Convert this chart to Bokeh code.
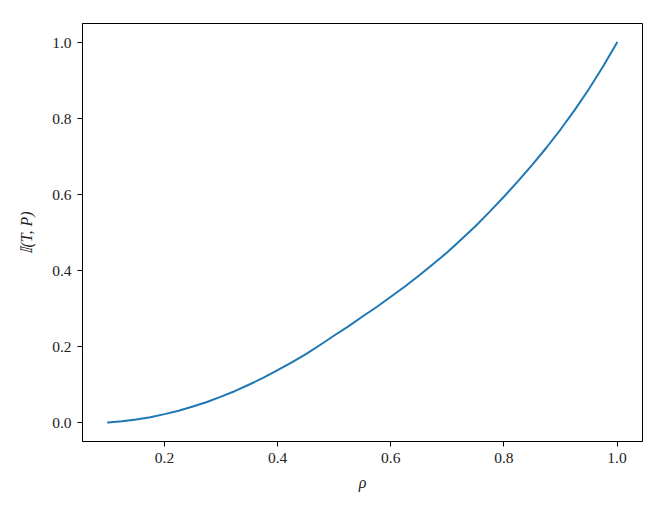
from bokeh.plotting import figure
from bokeh.models import FixedTicker, PrintfTickFormatter, Range1d
from bokeh.embed import file_html
from bokeh.resources import INLINE

rho = [0.100, 0.125, 0.150, 0.175, 0.200, 0.225, 0.250, 0.275, 0.300, 0.325,
       0.350, 0.375, 0.400, 0.425, 0.450, 0.475, 0.500, 0.525, 0.550, 0.575,
       0.600, 0.625, 0.650, 0.675, 0.700, 0.725, 0.750, 0.775, 0.800, 0.825,
       0.850, 0.875, 0.900, 0.925, 0.950, 0.975, 1.000]
info = [0.000, 0.003, 0.008, 0.014, 0.022, 0.031, 0.042, 0.054, 0.068, 0.083,
        0.100, 0.118, 0.138, 0.158, 0.180, 0.204, 0.229, 0.253, 0.279, 0.304,
        0.331, 0.358, 0.387, 0.417, 0.448, 0.482, 0.517, 0.555, 0.594, 0.635,
        0.678, 0.723, 0.771, 0.822, 0.877, 0.936, 1.000]
x_ticks = [0.2, 0.4, 0.6, 0.8, 1.0]
y_ticks = [0.0, 0.2, 0.4, 0.6, 0.8, 1.0]

FONT = "Liberation Serif"

p = figure(width=656, height=506, output_backend="svg", toolbar_location=None,
           x_range=Range1d(0.055, 1.045), y_range=Range1d(-0.05, 1.05),
           min_border_left=82, min_border_right=14, min_border_top=23,
           min_border_bottom=65)

p.line(rho, info, line_color="#1f77b4", line_width=2, line_join="round",
       line_cap="round")

p.xgrid.visible = False
p.ygrid.visible = False
p.outline_line_color = "black"
p.outline_line_width = 1
p.background_fill_color = "white"
p.border_fill_color = "white"

p.xaxis.ticker = FixedTicker(ticks=x_ticks)
p.yaxis.ticker = FixedTicker(ticks=y_ticks)
for ax in (p.xaxis, p.yaxis):
    ax.formatter = PrintfTickFormatter(format="%.1f")
    ax.minor_tick_line_color = None
    ax.major_tick_in = 0
    ax.major_tick_out = 5
    ax.major_tick_line_color = "black"
    ax.axis_line_color = "black"
    ax.major_label_text_font = FONT
    ax.major_label_text_font_size = "15.5px"
    ax.major_label_text_color = "#222222"
    ax.axis_label_text_font = FONT
    ax.axis_label_text_font_size = "16px"
    ax.axis_label_text_color = "#222222"
    ax.major_label_standoff = 6

p.xaxis.axis_label = "ρ"
p.xaxis.axis_label_text_font_style = "italic"
p.xaxis.axis_label_standoff = 8
p.yaxis.axis_label = "𝕀(T, P)"
p.yaxis.axis_label_text_font_style = "italic"
p.yaxis.axis_label_standoff = 14

open("out.html", "w").write(file_html(p, INLINE))
